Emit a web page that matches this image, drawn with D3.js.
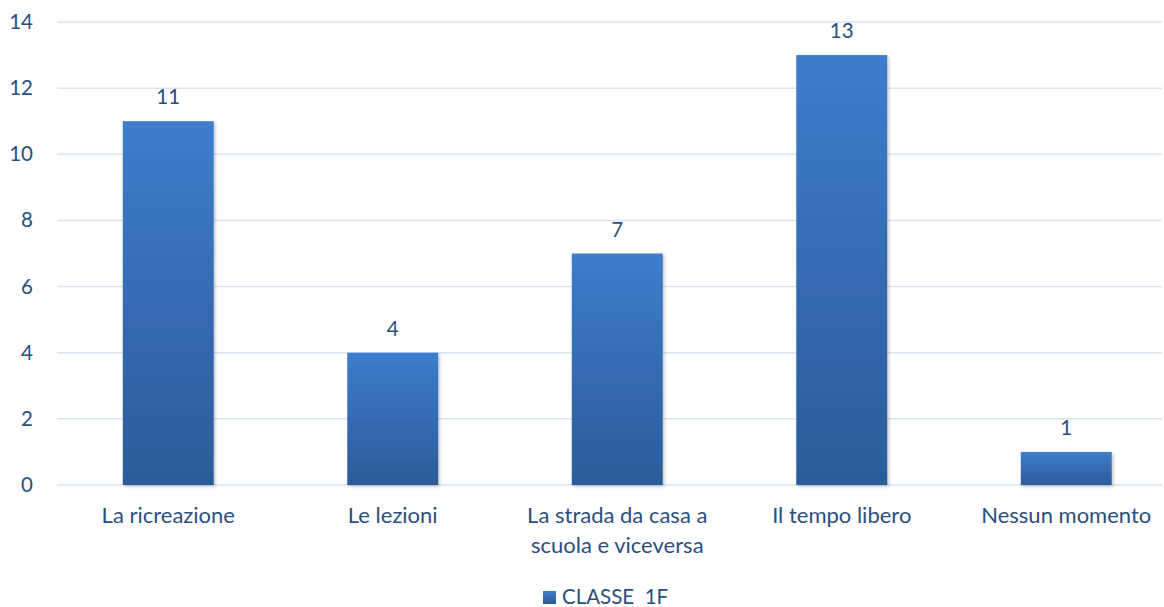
<!DOCTYPE html>
<html>
<head>
<meta charset="utf-8">
<script src="https://cdn.jsdelivr.net/npm/d3@7"></script>
<style>
  body { margin: 0; background: #fff; }
  text { font-family: Lato, "Open Sans", sans-serif; fill: #2b4f7e; }
</style>
</head>
<body>
<svg id="chart" width="1164" height="607"></svg>
<script>
const CATEGORIES = ['La ricreazione', 'Le lezioni', 'La strada da casa a|scuola e viceversa', 'Il tempo libero', 'Nessun momento'];
const VALUES = [11, 4, 7, 13, 1];
const Y_TICKS = [0, 2, 4, 6, 8, 10, 12, 14];
const SERIES_NAME = 'CLASSE  1F';

const svg = d3.select('#chart');
const FONT = 20.5;
const CAT_FONT = 22;

const x = d3.scaleBand()
    .domain(CATEGORIES)
    .range([56, 1178.5])
    .paddingInner(0.595)
    .paddingOuter(0.2975);

const y = d3.scaleLinear()
    .domain([0, 14])
    .range([485, 22]);

const defs = svg.append('defs');
const grad = defs.append('linearGradient')
    .attr('id', 'barGrad')
    .attr('x1', 0).attr('y1', 0).attr('x2', 0).attr('y2', 1);
grad.append('stop').attr('offset', '0%').attr('stop-color', '#3d7dcb');
grad.append('stop').attr('offset', '100%').attr('stop-color', '#2c5b98');

const shadow = defs.append('filter').attr('id', 'shadow')
    .attr('x', '-10%').attr('y', '-10%').attr('width', '130%').attr('height', '130%');
shadow.append('feDropShadow')
    .attr('dx', 1.5).attr('dy', 1.5).attr('stdDeviation', 1.5)
    .attr('flood-color', '#000').attr('flood-opacity', 0.25);

// gridlines
svg.append('g')
    .selectAll('line')
    .data(Y_TICKS)
    .join('line')
    .attr('x1', 57)
    .attr('x2', 1162)
    .attr('y1', d => y(d))
    .attr('y2', d => y(d))
    .attr('stroke', '#d9e3f1')
    .attr('stroke-width', 1.5);

// y axis labels
const yAxis = d3.axisLeft(y).tickValues(Y_TICKS).tickSize(0).tickPadding(0);
svg.append('g')
    .attr('transform', 'translate(33,0)')
    .call(yAxis)
    .call(g => g.select('.domain').remove())
    .call(g => g.selectAll('text')
        .attr('font-size', FONT)
        .attr('fill', '#2b4f7e')
        .style('font-family', 'Lato, "Open Sans", sans-serif'));

// bars
svg.append('g')
    .selectAll('rect')
    .data(VALUES)
    .join('rect')
    .attr('x', (d, i) => x(CATEGORIES[i]))
    .attr('y', d => y(d))
    .attr('width', x.bandwidth())
    .attr('height', d => y(0) - y(d))
    .attr('fill', 'url(#barGrad)')
    .attr('filter', 'url(#shadow)');

// data labels
svg.append('g')
    .selectAll('text')
    .data(VALUES)
    .join('text')
    .attr('x', (d, i) => x(CATEGORIES[i]) + x.bandwidth() / 2)
    .attr('y', d => y(d) - 17)
    .attr('text-anchor', 'middle')
    .attr('font-size', FONT)
    .text(d => d);

// category labels
const xAxis = d3.axisBottom(x).tickSize(0).tickPadding(0).tickFormat(() => '');
const xg = svg.append('g')
    .attr('transform', `translate(0,${y(0)})`)
    .call(xAxis)
    .call(g => g.select('.domain').remove());
xg.selectAll('.tick').each(function(d) {
    const t = d3.select(this).append('text')
        .attr('text-anchor', 'middle')
        .attr('font-size', CAT_FONT)
        .attr('y', 38);
    d.split('|').forEach((line, i) => {
        t.append('tspan').attr('x', 0).attr('dy', i === 0 ? 0 : 30).text(line);
    });
});

// legend
const legend = svg.append('g').attr('transform', 'translate(543,591)');
legend.append('rect')
    .attr('width', 13).attr('height', 13)
    .attr('fill', 'url(#barGrad)');
legend.append('text')
    .attr('x', 19).attr('y', 12.5)
    .attr('font-size', FONT)
    .style('white-space', 'pre')
    .text(SERIES_NAME);
</script>
</body>
</html>
